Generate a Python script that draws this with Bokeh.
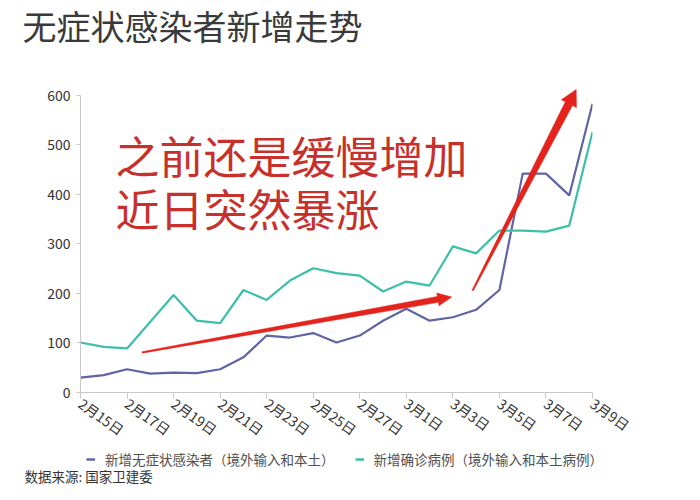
import math
from bokeh.plotting import figure
from bokeh.layouts import column
from bokeh.models import Range1d, FixedTicker, Label, Legend, LegendItem
from bokeh.embed import file_html
from bokeh.resources import INLINE

# ---------------- data ----------------
dates = ["2月15日", "2月16日", "2月17日", "2月18日", "2月19日", "2月20日", "2月21日",
         "2月22日", "2月23日", "2月24日", "2月25日", "2月26日", "2月27日", "2月28日",
         "3月1日", "3月2日", "3月3日", "3月4日", "3月5日", "3月6日", "3月7日",
         "3月8日", "3月9日"]
asymptomatic = [30, 35, 47, 38, 40, 39, 47, 71, 115, 111, 120, 101, 115, 145,
                169, 145, 152, 167, 207, 442, 442, 398, 583]
confirmed = [101, 92, 89, 143, 197, 145, 140, 207, 187, 226, 251, 241, 236, 204,
             224, 216, 295, 281, 327, 327, 325, 337, 526]
y_ticks = [0, 100, 200, 300, 400, 500, 600]
series_names = ["新增无症状感染者（境外输入和本土）", "新增确诊病例（境外输入和本土病例）"]
title_text = "无症状感染者新增走势"
source_text = "数据来源: 国家卫建委"
note_lines = ["之前还是缓慢增加", "近日突然暴涨"]

FONT = "Noto Sans CJK SC"
PURPLE = "#6064a4"
TEAL = "#3dbfa8"
RED = "#e5231d"
TEXT_RED = "#c8302c"

x_idx = list(range(len(dates)))
x_tick_idx = x_idx[::2]

W = 684
TITLE_H, MAIN_H, FOOT_H = 50, 400, 34
BL, BR, BT = 80, 92, 35
FRAME_H = 307
BB = MAIN_H - BT - FRAME_H
YMAX = 620


def blank(h):
    f = figure(width=W, height=h, output_backend="svg", toolbar_location=None,
               x_range=Range1d(0, W), y_range=Range1d(0, h),
               x_axis_location=None, y_axis_location=None,
               min_border=0, min_border_left=0, min_border_right=0,
               min_border_top=0, min_border_bottom=0)
    f.frame_align = False
    f.outline_line_color = None
    f.grid.visible = False
    f.background_fill_color = "white"
    f.border_fill_color = "white"
    return f


# ---------------- title strip ----------------
pt = blank(TITLE_H)
pt.add_layout(Label(x=22, y=TITLE_H - 25, text=title_text, text_font=FONT,
                    text_font_size="34px", text_color="#3a3a3a",
                    text_baseline="middle", text_align="left"))

# ---------------- main chart ----------------
p = figure(width=W, height=MAIN_H, output_backend="svg", toolbar_location=None,
           x_range=Range1d(0, len(dates) - 1), y_range=Range1d(0, YMAX),
           min_border_left=BL, min_border_right=BR, min_border_top=BT,
           min_border_bottom=BB)
p.frame_align = False
p.outline_line_color = None
p.grid.visible = False
p.background_fill_color = "white"
p.border_fill_color = "white"

xa = p.xaxis[0]
xa.ticker = FixedTicker(ticks=x_tick_idx)
xa.major_label_overrides = {i: dates[i] for i in x_tick_idx}
xa.major_label_orientation = -0.62
xa.minor_tick_line_color = None
xa.axis_line_color = "#c8c8c8"
xa.major_tick_line_color = "#c8c8c8"
xa.major_tick_out = 6
xa.major_tick_in = 0
xa.major_label_text_font = FONT
xa.major_label_text_font_size = "14px"
xa.major_label_text_color = "#333333"
xa.major_label_standoff = 3

ya = p.yaxis[0]
ya.ticker = FixedTicker(ticks=y_ticks)
ya.bounds = (0, 600)
ya.minor_tick_line_color = None
ya.axis_line_color = "#c8c8c8"
ya.major_tick_line_color = "#c8c8c8"
ya.major_tick_out = 4
ya.major_tick_in = 0
ya.major_label_text_font = FONT
ya.major_label_text_font_size = "14px"
ya.major_label_text_color = "#333333"
ya.major_label_standoff = 6

r1 = p.line(x_idx, asymptomatic, line_color=PURPLE, line_width=2.2)
r2 = p.line(x_idx, confirmed, line_color=TEAL, line_width=2.2)

frame_w = W - BL - BR
SX = frame_w / (len(dates) - 1)
SY = FRAME_H / YMAX


def tapered_arrow(s, t, w0, w1, head_len, head_hw):
    sx0, sy0 = s[0] * SX, s[1] * SY
    tx, ty = t[0] * SX, t[1] * SY
    dx, dy = tx - sx0, ty - sy0
    d = math.hypot(dx, dy)
    ux, uy = dx / d, dy / d
    nx, ny = -uy, ux
    bx, by = tx - ux * head_len, ty - uy * head_len
    pts = [(sx0 + nx * w0 / 2, sy0 + ny * w0 / 2),
           (bx + nx * w1 / 2, by + ny * w1 / 2),
           (bx + nx * head_hw, by + ny * head_hw),
           (tx, ty),
           (bx - nx * head_hw, by - ny * head_hw),
           (bx - nx * w1 / 2, by - ny * w1 / 2),
           (sx0 - nx * w0 / 2, sy0 - ny * w0 / 2)]
    return [q[0] / SX for q in pts], [q[1] / SY for q in pts]


ARROW1 = ((2.65, 81), (15.95, 193))
ARROW2 = ((16.85, 206), (21.3, 612))
ax1, ay1 = tapered_arrow(ARROW1[0], ARROW1[1], 1.5, 6, 14, 6.5)
ax2, ay2 = tapered_arrow(ARROW2[0], ARROW2[1], 1.5, 8, 16, 8.5)
p.patch(ax1, ay1, fill_color=RED, line_color=RED, line_width=0.5)
p.patch(ax2, ay2, fill_color=RED, line_color=RED, line_width=0.5)

p.add_layout(Label(x=1.5, y=480, text=note_lines[0], text_font=FONT,
                   text_font_size="44px", text_color=TEXT_RED,
                   text_baseline="middle", text_align="left"))
p.add_layout(Label(x=1.5, y=372, text=note_lines[1], text_font=FONT,
                   text_font_size="44px", text_color=TEXT_RED,
                   text_baseline="middle", text_align="left"))

# ---------------- footer: legend + source ----------------
pf = blank(FOOT_H)
# single-point proxies: they draw nothing themselves, only feed the legend swatches
d1 = pf.line(x_idx[:1], asymptomatic[:1], line_color=PURPLE, line_width=2.5)
d2 = pf.line(x_idx[:1], confirmed[:1], line_color=TEAL, line_width=2.5)
legend = Legend(items=[LegendItem(label=series_names[0], renderers=[d1]),
                       LegendItem(label=series_names[1], renderers=[d2])],
                orientation="horizontal", location=(86, 15),
                label_text_font=FONT, label_text_font_size="13.5px",
                label_text_color="#505050", glyph_width=9, glyph_height=12,
                label_standoff=10, spacing=20, border_line_color=None,
                background_fill_alpha=0, padding=0, margin=0)
pf.add_layout(legend, "center")
pf.add_layout(Label(x=24, y=9, text=source_text, text_font=FONT,
                    text_font_size="13.5px", text_color="#333333",
                    text_baseline="middle", text_align="left"))

layout = column(pt, p, pf, spacing=0)
open("out.html", "w").write(file_html(layout, INLINE))
